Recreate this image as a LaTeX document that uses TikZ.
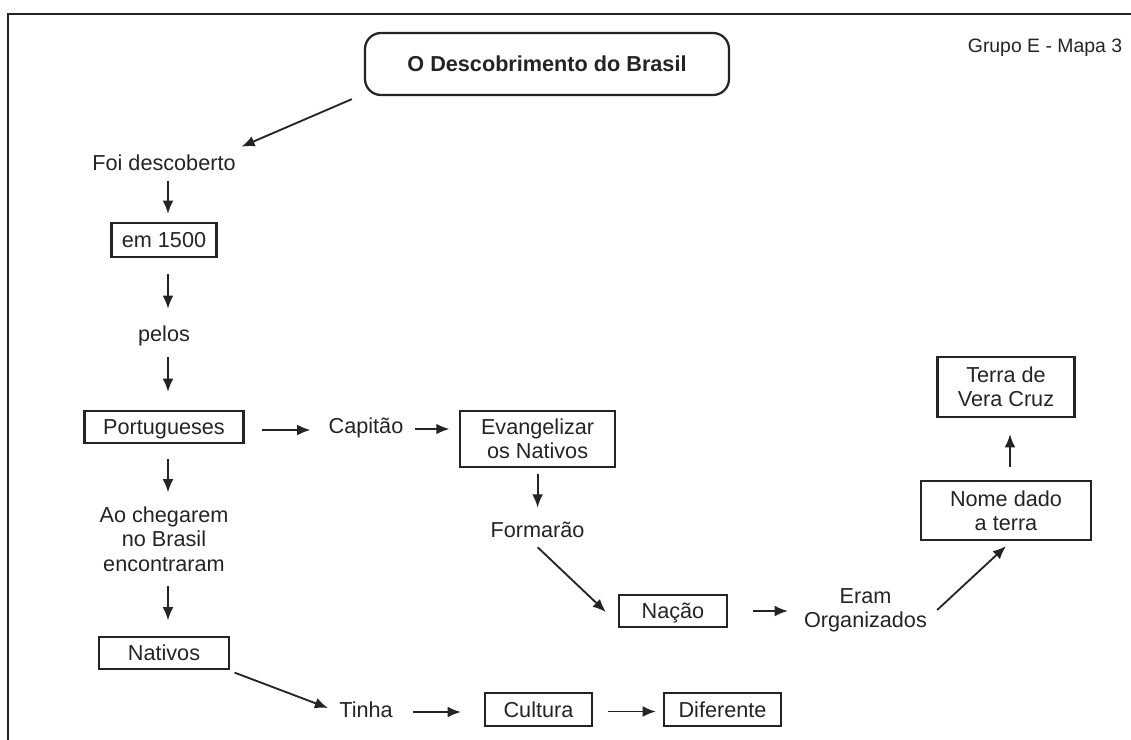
\documentclass[tikz,border=0pt]{standalone}
\usepackage{fontspec}
\setmainfont{Liberation Sans}
\usepackage{tikz}
\usetikzlibrary{arrows.meta}
\definecolor{ink}{RGB}{35,35,40}
\tikzset{
  lbl/.style={inner sep=0pt, text height=11pt, text depth=0pt, text=ink},
  lbls/.style={inner sep=0pt, align=center, text=ink},
  bx/.style={draw=ink, line width=1.6pt, inner sep=0pt, text=ink},
  bxfino/.style={bx, line width=0.9pt},
  arr/.style={draw=ink, line width=1.3pt, -{Latex[length=3.3mm,width=2.7mm]}}
}

\begin{document}
\begin{tikzpicture}[every node/.style={font=\fontsize{15.4}{17.2}\selectfont}]
    \useasboundingbox (0,0) rectangle (28.275,-18.5);
    \draw[ink, line width=1.2pt] (28.275,-0.35) -- (0.2,-0.35) -- (0.2,-18.5);

    \node[bx, lbl, rounded corners=0.4cm, minimum width=9.1cm, minimum height=1.55cm,
          font=\fontsize{15.4}{17.2}\selectfont\bfseries] (titulo) at (13.675,-1.6) {O Descobrimento do Brasil};
    \node[lbl, font=\fontsize{13.8}{16}\selectfont] (grupo) at (26.125,-1.125) {Grupo E - Mapa 3};
    \node[lbl] (foi) at (4.1,-4.0625) {Foi descoberto};
    \node[bx, lbl, minimum width=2.625cm, minimum height=0.85cm] (ano) at (4.1,-6) {em 1500};
    \node[lbl] (pelos) at (4.1,-8.35) {pelos};
    \node[bx, lbl, minimum width=3.975cm, minimum height=0.8cm] (port) at (4.1,-10.675) {Portugueses};
    \node[lbl] (capitao) at (9.15,-10.65) {Capitão};
    \node[bxfino, lbls, minimum width=3.875cm, minimum height=1.4cm] (evang) at (13.44,-10.975) {Evangelizar\\os Nativos};
    \node[lbl] (formarao) at (13.44,-13.25) {Formarão};
    \node[bx, lbl, minimum width=2.7cm, minimum height=0.8cm] (nacao) at (16.825,-15.275) {Nação};
    \node[lbls] (eram) at (21.6375,-15.25) {Eram\\Organizados};
    \node[bx, lbls, minimum width=4.25cm, minimum height=1.475cm] (nome) at (25.15,-12.7625) {Nome dado\\a terra};
    \node[bx, lbls, minimum width=3.425cm, minimum height=1.5cm] (terra) at (25.15,-9.675) {Terra de\\Vera Cruz};
    \node[lbls] (chegada) at (4.1,-13.48) {Ao chegarem\\no Brasil\\encontraram};
    \node[bxfino, lbl, minimum width=3.25cm, minimum height=0.8cm] (nativos) at (4.1,-16.325) {Nativos};
    \node[lbl] (tinha) at (9.15,-17.75) {Tinha};
    \node[bx, lbl, minimum width=2.675cm, minimum height=0.825cm] (cultura) at (13.4625,-17.7375) {Cultura};
    \node[bx, lbl, minimum width=2.925cm, minimum height=0.825cm] (diferente) at (18.0625,-17.7375) {Diferente};

    \draw[arr] ([shift={(-0.3,-0.075)}]titulo.south west) -- ([shift={(0.14,0.195)}]foi.north east);
    \draw[arr, shorten <=0.25cm, shorten >=0.2cm] ([xshift=1mm]foi.south) -- ([xshift=1mm]ano.north);
    \draw[arr, shorten <=0.4cm, shorten >=0.43cm] ([xshift=1mm]ano.south) -- ([xshift=1mm]pelos.north);
    \draw[arr, shorten <=0.38cm, shorten >=0.45cm] ([xshift=1mm]pelos.south) -- ([xshift=1mm]port.north);
    \draw[arr, shorten <=0.375cm, shorten >=0.36cm] ([xshift=1mm]port.south) -- ([xshift=1mm]chegada.north);
    \draw[arr, shorten <=0.37cm, shorten >=0.4cm] ([xshift=1mm]chegada.south) -- ([xshift=1mm]nativos.north);
    \draw[arr, shorten <=0.425cm, shorten >=0.45cm] ([yshift=-0.75mm]port.east) -- ([yshift=-0.75mm]port.east -| capitao.west);
    \draw[arr, shorten <=0.275cm, shorten >=0.25cm] ([yshift=-0.75mm]capitao.east) -- ([yshift=-0.75mm]capitao.east -| evang.west);
    \draw[arr, shorten <=0.15cm, shorten >=0.36cm] (evang.south) -- (formarao.north);
    \draw[arr] ([yshift=-0.23cm]formarao.south) -- ([shift={(-0.3,-0.025)}]nacao.west);
    \draw[arr, shorten <=0.625cm, shorten >=0.4cm] (nacao.east) -- (nacao.east -| eram.west);
    \draw[arr] ([xshift=0.25cm]eram.east) -- ([yshift=-0.125cm]nome.south);
    \draw[arr, shorten <=0.325cm, shorten >=0.4cm] ([xshift=1mm]nome.north) -- ([xshift=1mm]terra.south);
    \draw[arr] ([shift={(0.125,-0.075)}]nativos.south east) -- ([shift={(-0.275,0.05)}]tinha.west);
    \draw[arr, shorten <=0.5cm, shorten >=0.575cm] ([yshift=-0.05cm]tinha.east) -- ([yshift=-0.05cm]tinha.east -| cultura.west);
    \draw[arr, shorten <=0.375cm, shorten >=0.175cm] ([yshift=-0.05cm]cultura.east) -- ([yshift=-0.05cm]cultura.east -| diferente.west);
\end{tikzpicture}
\end{document}
